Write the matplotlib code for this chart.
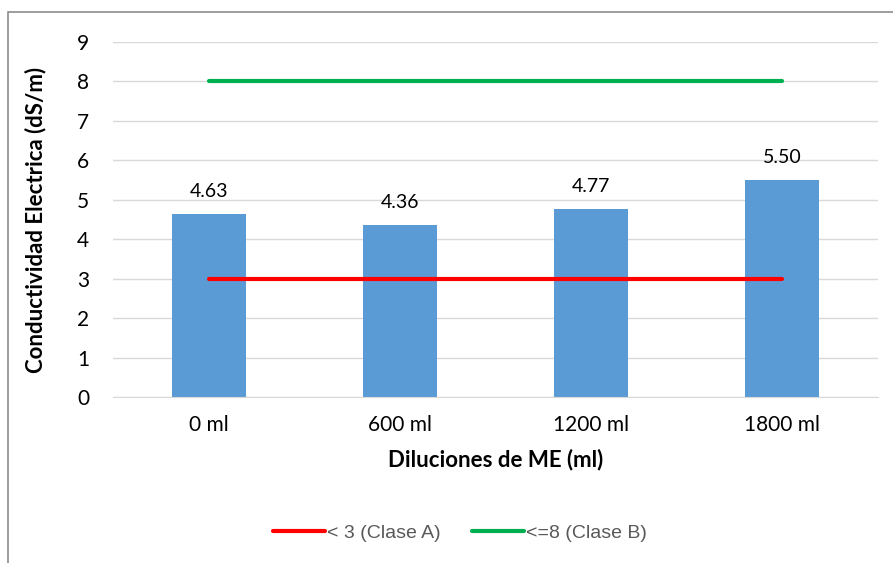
import numpy as np
import matplotlib.pyplot as plt
from matplotlib.patches import Rectangle

plt.rcParams['font.family'] = ['Lato', 'DejaVu Sans']

# datos
diluciones = ['0 ml', '600 ml', '1200 ml', '1800 ml']
conductividad = [4.63, 4.36, 4.77, 5.50]
clase_a = [3, 3, 3, 3]
clase_b = [8, 8, 8, 8]

fig = plt.figure(figsize=(8.93, 5.63), dpi=100)
ax = fig.add_axes([0.1265, 0.2948, 0.8565, 0.6306])

# marco del grafico
fig.patches.append(Rectangle((8 / 893, -0.1), 1.2, 1 - 12 / 563 + 0.1,
                             transform=fig.transFigure, fill=False,
                             edgecolor='#8c8c8c', linewidth=1.2))

x = np.arange(len(diluciones))
ax.bar(x, conductividad, width=0.387, color='#5b9bd5', zorder=2)
l1, = ax.plot(x, clase_a, color='#ff0000', linewidth=3, zorder=3,
              solid_capstyle='round', label='< 3 (Clase A)')
l2, = ax.plot(x, clase_b, color='#00b050', linewidth=3, zorder=3,
              solid_capstyle='round', label='<=8 (Clase B)')

for xi, v in zip(x, conductividad):
    ax.annotate(f'{v:.2f}', (xi, v), xytext=(0, 10), textcoords='offset points',
                ha='center', va='bottom', fontsize=14, color='#000000')

ax.set_xlim(-0.5, 3.5)
ax.set_ylim(0, 9)
ax.set_yticks(range(0, 10))
ax.set_xticks(x)
ax.set_xticklabels(diluciones)
ax.tick_params(length=0, labelsize=15, colors='#000000')
ax.tick_params(axis='y', pad=17)
ax.tick_params(axis='x', pad=13)

ax.grid(axis='y', color='#d9d9d9', linewidth=1, zorder=0)
for s in ['top', 'right', 'left']:
    ax.spines[s].set_visible(False)
ax.spines['bottom'].set_color('#d9d9d9')

ax.set_xlabel('Diluciones de ME (ml)', fontsize=16, fontweight='bold', labelpad=10)
ax.set_ylabel('Conductividad Electrica (dS/m)', fontsize=16, fontweight='bold', labelpad=22)

fig.legend(handles=[l1, l2], loc='center', bbox_to_anchor=(460 / 893, 1 - 533 / 563),
           ncol=2, frameon=False, handlelength=2.7, handletextpad=0.1,
           columnspacing=1.6, prop={'family': 'Liberation Sans', 'size': 14},
           labelcolor='#595959')

fig.savefig('out.png', dpi=100)
